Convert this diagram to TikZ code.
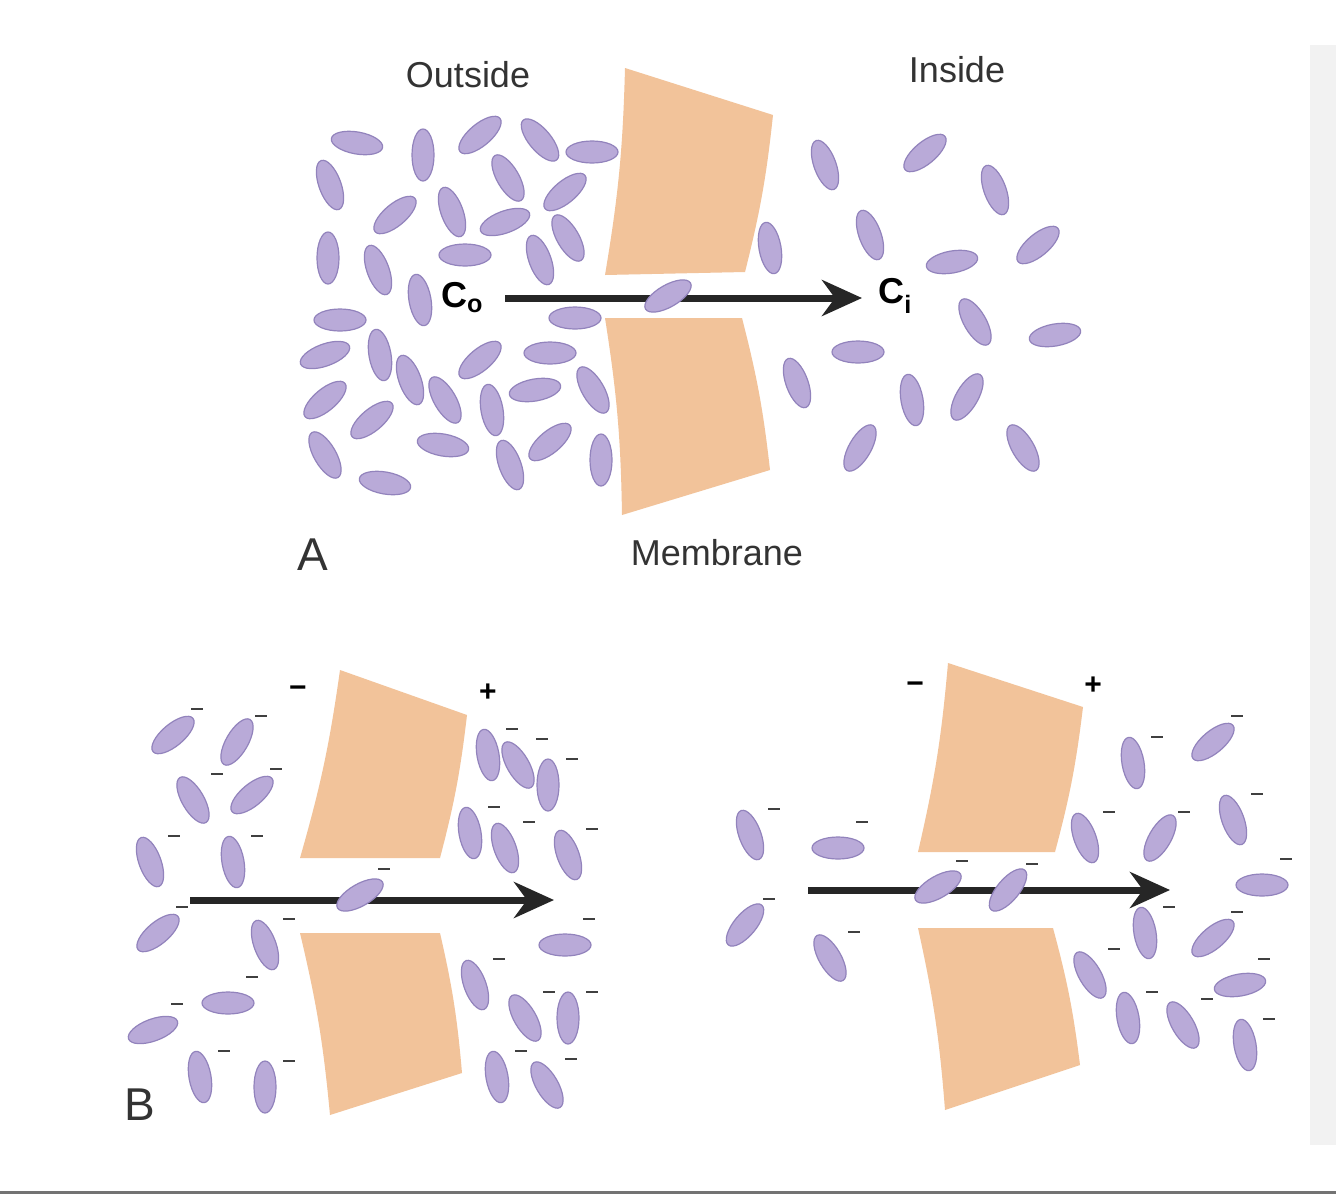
\documentclass[tikz,border=0pt]{standalone}
\usepackage{fontspec}
\setmainfont{Liberation Sans}
\usetikzlibrary{arrows.meta}
\definecolor{mem}{HTML}{F2C39A}
\definecolor{ionf}{HTML}{B9AAD8}
\definecolor{ione}{HTML}{9283BC}
\begin{document}
\begin{tikzpicture}[x=1pt,y=-1pt,
  ion/.style={fill=ionf,draw=ione,line width=1.2pt},
  memb/.style={fill=mem,draw=none},
  arr/.style={line width=7pt,draw=black!85,-{Stealth[length=40pt,width=36pt]}},
  lab/.style={font=\fontsize{36}{40}\selectfont,text=black!80},
  sg/.style={line width=1.6pt,black!75}]
\useasboundingbox (0,0) rectangle (1336,1200);
\fill[white] (0,0) rectangle (1336,1200);
\fill[black!5] (1310,45) rectangle (1336,1145);
\draw[black!55,line width=3pt] (0,1192) -- (1336,1192);
% membranes A
\path[memb] (625,68) -- (773,115) to[bend left=4] (745,272) -- (605,275) to[bend right=4] (625,68) -- cycle;
\path[memb] (605,318) -- (742,318) to[bend left=4] (770,470) -- (622,515) to[bend right=4] (605,318) -- cycle;
% membranes B left
\path[memb] (340,670) -- (467,715) to[bend left=4] (440,858) -- (300,858) to[bend right=4] (340,670) -- cycle;
\path[memb] (300,933) -- (440,933) to[bend left=4] (462,1073) -- (330,1115) to[bend right=4] (300,933) -- cycle;
% membranes B right
\path[memb] (948,663) -- (1083,707) to[bend left=4] (1055,852) -- (918,852) to[bend right=4] (948,663) -- cycle;
\path[memb] (918,928) -- (1053,928) to[bend left=4] (1080,1065) -- (945,1110) to[bend right=4] (918,928) -- cycle;
% arrows
\coordinate (a1) at (505,298); \coordinate (a2) at (862,298);
\draw[arr] (a1) -- (a2);
\coordinate (b1) at (190,900); \coordinate (b2) at (554,900);
\draw[arr] (b1) -- (b2);
\coordinate (c1) at (808,890); \coordinate (c2) at (1170,890);
\draw[arr] (c1) -- (c2);
% ions A
\foreach \x/\y/\a in {357/143/-10,330/185/-70,423/155/90,480/135/40,540/140/-50,592/152/0,
 395/215/40,452/212/-70,508/178/-60,565/192/40,328/258/90,378/270/-70,465/255/0,505/222/20,
 540/260/-70,568/238/-60,420/300/-80,340/320/0,575/318/0,325/355/20,380/355/-80,410/380/-70,
 480/360/40,550/353/0,593/390/-60,325/400/40,372/420/40,445/400/-60,492/410/-80,535/390/10,
 325/455/-60,385/483/-10,443/445/-10,510/465/-70,550/442/40,601/460/90,668/296/30,
 770/248/-80,825/165/-70,925/153/40,995/190/-70,870/235/-70,952/262/10,1038/245/40,975/322/-60,
 858/352/0,797/383/-70,912/400/-80,967/397/60,1055/335/10,860/448/60,1023/448/-60}
 \draw[ion,rotate around={\a:(\x,\y)}] (\x,\y) ellipse (26 and 11);
% ions B with minus signs
\foreach \x/\y/\a in {173/735/40,237/742/60,193/800/-60,252/795/40,150/862/-70,233/862/-80,
 158/933/40,265/945/-70,228/1003/0,153/1030/20,200/1077/-80,265/1087/-90,360/895/30,
 488/755/-80,518/765/-60,548/785/-90,470/833/-80,505/848/-70,568/855/-70,565/945/0,475/985/-70,
 525/1018/-60,568/1018/-90,497/1077/-80,547/1085/-60,
 750/835/-70,838/848/0,745/925/50,830/958/-60,938/887/30,1008/890/50,
 1085/838/-70,1133/763/-80,1213/742/40,1160/838/60,1233/820/-70,1145/933/-80,1213/938/40,
 1262/885/0,1090/975/-60,1128/1018/-80,1183/1025/-60,1240/985/10,1245/1045/-80}
 {\draw[ion,rotate around={\a:(\x,\y)}] (\x,\y) ellipse (26 and 11);
  \draw[sg] (\x+18,\y-26) -- (\x+30,\y-26);}
% labels
\node[lab] (out) at (468,75) {Outside};
\node[lab] (ins) at (957,70) {Inside};
\node[lab] (mem) at (717,553) {Membrane};
\node[font=\fontsize{46}{48}\selectfont,text=black!80] (la) at (313,555) {A};
\node[font=\fontsize{46}{48}\selectfont,text=black!80] (lb) at (140,1105) {B};
\node[font=\bfseries\fontsize{36}{40}\selectfont] (co) at (462,298) {C\textsubscript{o}};
\node[font=\bfseries\fontsize{36}{40}\selectfont] (ci) at (895,296) {C\textsubscript{i}};
\node[font=\bfseries\fontsize{30}{32}\selectfont] (m1) at (298,692) {−};
\node[font=\bfseries\fontsize{30}{32}\selectfont] (p1) at (488,693) {+};
\node[font=\bfseries\fontsize{30}{32}\selectfont] (m2) at (915,688) {−};
\node[font=\bfseries\fontsize{30}{32}\selectfont] (p2) at (1093,686) {+};
\end{tikzpicture}
\end{document}
